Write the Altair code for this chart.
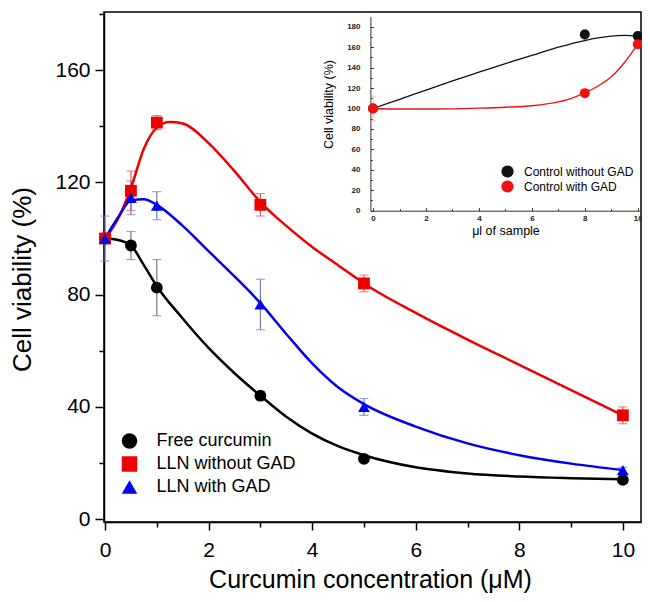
import altair as alt
import pandas as pd

FONT = "Liberation Sans"

# ---------------- main chart data ----------------
conc = [0, 0.5, 1, 3, 5, 10]
series = ["Free curcumin", "LLN without GAD", "LLN with GAD"]

free_mean = [100, 97.5, 82.5, 44, 21.5, 14]
free_err = [0, 5, 10, 1.5, 1, 1]
wo_mean = [100, 117, 141.3, 112, 84, 37]
wo_err = [0, 7, 2.5, 4, 3, 3]
w_mean = [100, 114.5, 111.7, 76.5, 40, 17.5]
w_err = [8, 6, 5, 9, 3, 1]

# fitted curves
free_fit_x = [0, 0.25, 0.5, 0.75, 1, 1.5, 2, 2.5, 3, 3.5, 4, 4.5, 5, 6, 7, 8, 9, 10]
free_fit_y = [100, 99.5, 97.5, 90.5, 83, 71.5, 61, 52, 44, 36.5, 30.5, 26, 22.8, 18.5, 16.3, 15.2, 14.6, 14.2]
wo_fit_x = [0, 0.25, 0.5, 0.75, 1, 1.25, 1.5, 2, 2.5, 3, 3.5, 4, 4.5, 5, 6, 7, 8, 9, 10]
wo_fit_y = [100, 107, 118, 132, 139.5, 141.5, 141, 134, 124, 113, 104.5, 97, 90.5, 84, 73.5, 64, 55, 46, 37]
w_fit_x = [0, 0.25, 0.5, 0.75, 1, 1.5, 2, 2.5, 3, 3.5, 4, 4.5, 5, 6, 7, 8, 9, 10]
w_fit_y = [100, 107.5, 113.5, 114, 112, 104.5, 95.5, 86.5, 77, 66, 55.5, 47, 41, 33, 27, 22.8, 19.8, 17.5]

main_colors = ["#000000", "#ee0000", "#0000ee"]
err_colors = ["#7a7a7a", "#e05a5a", "#7a7ac8"]
shapes = ["circle", "square", "triangle-up"]

# ---------------- inset data ----------------
inset_x = [0, 8, 10]
inset_series = ["Control without GAD", "Control with GAD"]
ctrl_wo = [100, 172.5, 171]
ctrl_wo_err = [0, 5, 3]
ctrl_w = [100, 115, 162.8]
ctrl_w_err = [12, 2, 2]

ctrl_wo_fit_x = [0, 1, 2, 3, 4, 5, 6, 7, 8, 8.5, 9, 9.5, 10]
ctrl_wo_fit_y = [100, 109, 118, 127, 135.5, 144, 152, 160, 166.5, 169, 170.8, 171.5, 171]
ctrl_w_fit_x = [0, 1, 2, 3, 4, 5, 6, 7, 7.5, 8, 8.5, 9, 9.5, 10]
ctrl_w_fit_y = [100, 99.5, 99.5, 99.7, 100.3, 101.2, 102.7, 106.5, 110, 115.5, 122, 131, 145, 163]

inset_colors = ["#111111", "#ee1111"]
inset_err_colors = ["#aaaaaa", "#f0a0a0"]

# ---------------- scales & axes ----------------
W, H = 537, 510
mx_scale = alt.Scale(domain=[-0.02, 10.35], nice=False, zero=False)
my_scale = alt.Scale(domain=[-1, 180.7], nice=False, zero=False)

mx_axis = alt.Axis(
    values=list(range(0, 11)),
    labelExpr="datum.value % 2 === 0 ? datum.label : ''",
    tickSize={"condition": {"test": "datum.value % 2 !== 0", "value": 5}, "value": 8},
    labelFontSize=21, labelColor="black", labelPadding=9, labelFlush=False, labelOverlap=False,
    domainColor="black", domainWidth=1.5, tickColor="black", tickWidth=1.5, grid=False,
    title="Curcumin concentration (\u03bcM)", titleFontSize=25, titleFontWeight="normal",
    titleColor="black", titleX=266, titleY=57, titleAlign="center", titleBaseline="middle",
)
my_axis = alt.Axis(
    values=list(range(0, 181, 20)),
    labelExpr="datum.value % 40 === 0 ? datum.label : ''",
    tickSize={"condition": {"test": "datum.value % 40 !== 0", "value": 5}, "value": 9},
    labelFontSize=21, labelColor="black", labelPadding=5, labelOverlap=False,
    domainColor="black", domainWidth=1.5, tickColor="black", tickWidth=1.5, grid=False,
    title="Cell viability (%)", titleFontSize=26, titleFontWeight="normal",
    titleColor="black", titleX=-82, titleY=267, titleAngle=270,
    titleAlign="center", titleBaseline="middle",
)

ix_scale = alt.Scale(domain=[-0.1, 10.1], range=[266.4, 536.4], nice=False, zero=False)
iy_scale = alt.Scale(domain=[0, 190], range=[198.7, 4.5], nice=False, zero=False)

ix_axis = alt.Axis(
    orient="top", offset=-198.7,
    values=list(range(0, 11)),
    labelExpr="datum.value % 2 === 0 ? datum.label : ''",
    tickSize={"condition": {"test": "datum.value % 2 !== 0", "value": 2}, "value": 3},
    labelFontSize=8, labelFontWeight="bold", labelColor="#222222",
    labelPadding=-10.3, labelBaseline="middle", labelAlign="center",
    labelFlush=False, labelOverlap=False,
    domainColor="#333333", domainWidth=1, tickColor="#333333", tickWidth=1, grid=False,
    title="\u03bcl of sample", titleFontSize=12.5, titleFontWeight="normal", titleColor="black",
    titleX=401.5, titleY=19.3, titleAlign="center", titleBaseline="middle", titleAngle=0,
)
iy_axis = alt.Axis(
    orient="right", offset=-270.6,
    values=list(range(0, 181, 10)),
    labelExpr="datum.value % 20 === 0 ? datum.label : ''",
    tickSize={"condition": {"test": "datum.value % 20 !== 0", "value": 2}, "value": 3},
    labelFontSize=8, labelFontWeight="bold", labelColor="#222222",
    labelPadding=-13.4, labelAlign="right", labelBaseline="middle", labelOverlap=False,
    domainColor="#333333", domainWidth=1, tickColor="#333333", tickWidth=1, grid=False,
    title="Cell viability (%)", titleFontSize=12.5, titleFontWeight="normal", titleColor="black",
    titleX=-42.4, titleY=92, titleAngle=270, titleAlign="center", titleBaseline="middle",
)


def mX(field="x"):
    return alt.X(f"{field}:Q", scale=mx_scale, axis=mx_axis)


def mY(field="y"):
    return alt.Y(f"{field}:Q", scale=my_scale, axis=my_axis)


def iX(field="x"):
    return alt.X(f"{field}:Q", scale=ix_scale, axis=ix_axis)


def iY(field="y"):
    return alt.Y(f"{field}:Q", scale=iy_scale, axis=iy_axis)


# ---------------- main layers ----------------
means = [free_mean, wo_mean, w_mean]
errs = [free_err, wo_err, w_err]
fits = [(free_fit_x, free_fit_y), (wo_fit_x, wo_fit_y), (w_fit_x, w_fit_y)]

main_layers = []
for i, name in enumerate(series):
    rows = [{"x": c, "lo": m - e, "hi": m + e} for c, m, e in zip(conc, means[i], errs[i]) if e > 0]
    df_e = pd.DataFrame(rows)
    caps = pd.DataFrame([{"x": r["x"], "y": v} for r in rows for v in (r["lo"], r["hi"])])
    main_layers.append(
        alt.Chart(df_e).mark_rule(color=err_colors[i], strokeWidth=1.2)
        .encode(x=mX(), y=mY("lo"), y2="hi:Q")
    )
    main_layers.append(
        alt.Chart(caps).mark_tick(color=err_colors[i], orient="horizontal", size=9, thickness=1.2)
        .encode(x=mX(), y=mY())
    )

for i, name in enumerate(series):
    df_f = pd.DataFrame({"x": fits[i][0], "y": fits[i][1]})
    main_layers.append(
        alt.Chart(df_f).mark_line(color=main_colors[i], strokeWidth=2.5, interpolate="monotone")
        .encode(x=mX(), y=mY())
    )

pts = pd.DataFrame(
    [{"series": s, "x": c, "y": m} for s, mm in zip(series, means) for c, m in zip(conc, mm)]
)
legend_main = alt.Legend(
    orient="none", legendX=16.5, legendY=420, title=None,
    labelFontSize=18, labelColor="black", symbolSize=240, symbolStrokeWidth=0,
    rowPadding=5, labelOffset=18, padding=0,
)
main_layers.append(
    alt.Chart(pts).mark_point(filled=True, opacity=1, size=140)
    .encode(
        x=mX(), y=mY(),
        color=alt.Color("series:N", scale=alt.Scale(domain=series, range=main_colors), legend=legend_main),
        shape=alt.Shape("series:N", scale=alt.Scale(domain=series, range=shapes), legend=legend_main),
    )
)
main = alt.layer(*main_layers)

# ---------------- inset layers ----------------
ivals = [ctrl_wo, ctrl_w]
ierrs = [ctrl_wo_err, ctrl_w_err]
ifits = [(ctrl_wo_fit_x, ctrl_wo_fit_y), (ctrl_w_fit_x, ctrl_w_fit_y)]
inset_layers = []
for i, name in enumerate(inset_series):
    rows = [{"x": c, "lo": m - e, "hi": m + e} for c, m, e in zip(inset_x, ivals[i], ierrs[i]) if e > 0]
    df_e = pd.DataFrame(rows)
    caps = pd.DataFrame([{"x": r["x"], "y": v} for r in rows for v in (r["lo"], r["hi"])])
    inset_layers.append(
        alt.Chart(df_e).mark_rule(color=inset_err_colors[i], strokeWidth=0.8)
        .encode(x=iX(), y=iY("lo"), y2="hi:Q")
    )
    inset_layers.append(
        alt.Chart(caps).mark_tick(color=inset_err_colors[i], orient="horizontal", size=5, thickness=0.8)
        .encode(x=iX(), y=iY())
    )
for i, name in enumerate(inset_series):
    df_f = pd.DataFrame({"x": ifits[i][0], "y": ifits[i][1]})
    inset_layers.append(
        alt.Chart(df_f).mark_line(color=inset_colors[i], strokeWidth=1.3, interpolate="monotone")
        .encode(x=iX(), y=iY())
    )
ipts = pd.DataFrame(
    [{"series": s, "x": c, "y": m} for s, mm in zip(inset_series, ivals) for c, m in zip(inset_x, mm)]
)
legend_inset = alt.Legend(
    orient="none", legendX=397, legendY=153, title=None,
    labelFontSize=12, labelColor="black", symbolSize=150, symbolStrokeWidth=0,
    symbolType="circle", rowPadding=2, labelOffset=10, padding=0,
)
inset_layers.append(
    alt.Chart(ipts).mark_circle(size=100, opacity=1)
    .encode(
        x=iX(), y=iY(),
        color=alt.Color("series:N", scale=alt.Scale(domain=inset_series, range=inset_colors), legend=legend_inset),
    )
)
inset = alt.layer(*inset_layers)

chart = (
    alt.layer(main, inset)
    .resolve_scale(x="independent", y="independent", color="independent", shape="independent")
    .properties(
        width=W, height=H,
        padding={"left": 96, "top": 4, "right": 1, "bottom": 72},
        autosize="none",
        background="white",
    )
    .configure_view(stroke="black", strokeWidth=1.5)
    .configure_axis(labelFont=FONT, titleFont=FONT)
    .configure_legend(labelFont=FONT)
)

chart.save("out.html", embed_options={"renderer": "svg", "actions": False})
